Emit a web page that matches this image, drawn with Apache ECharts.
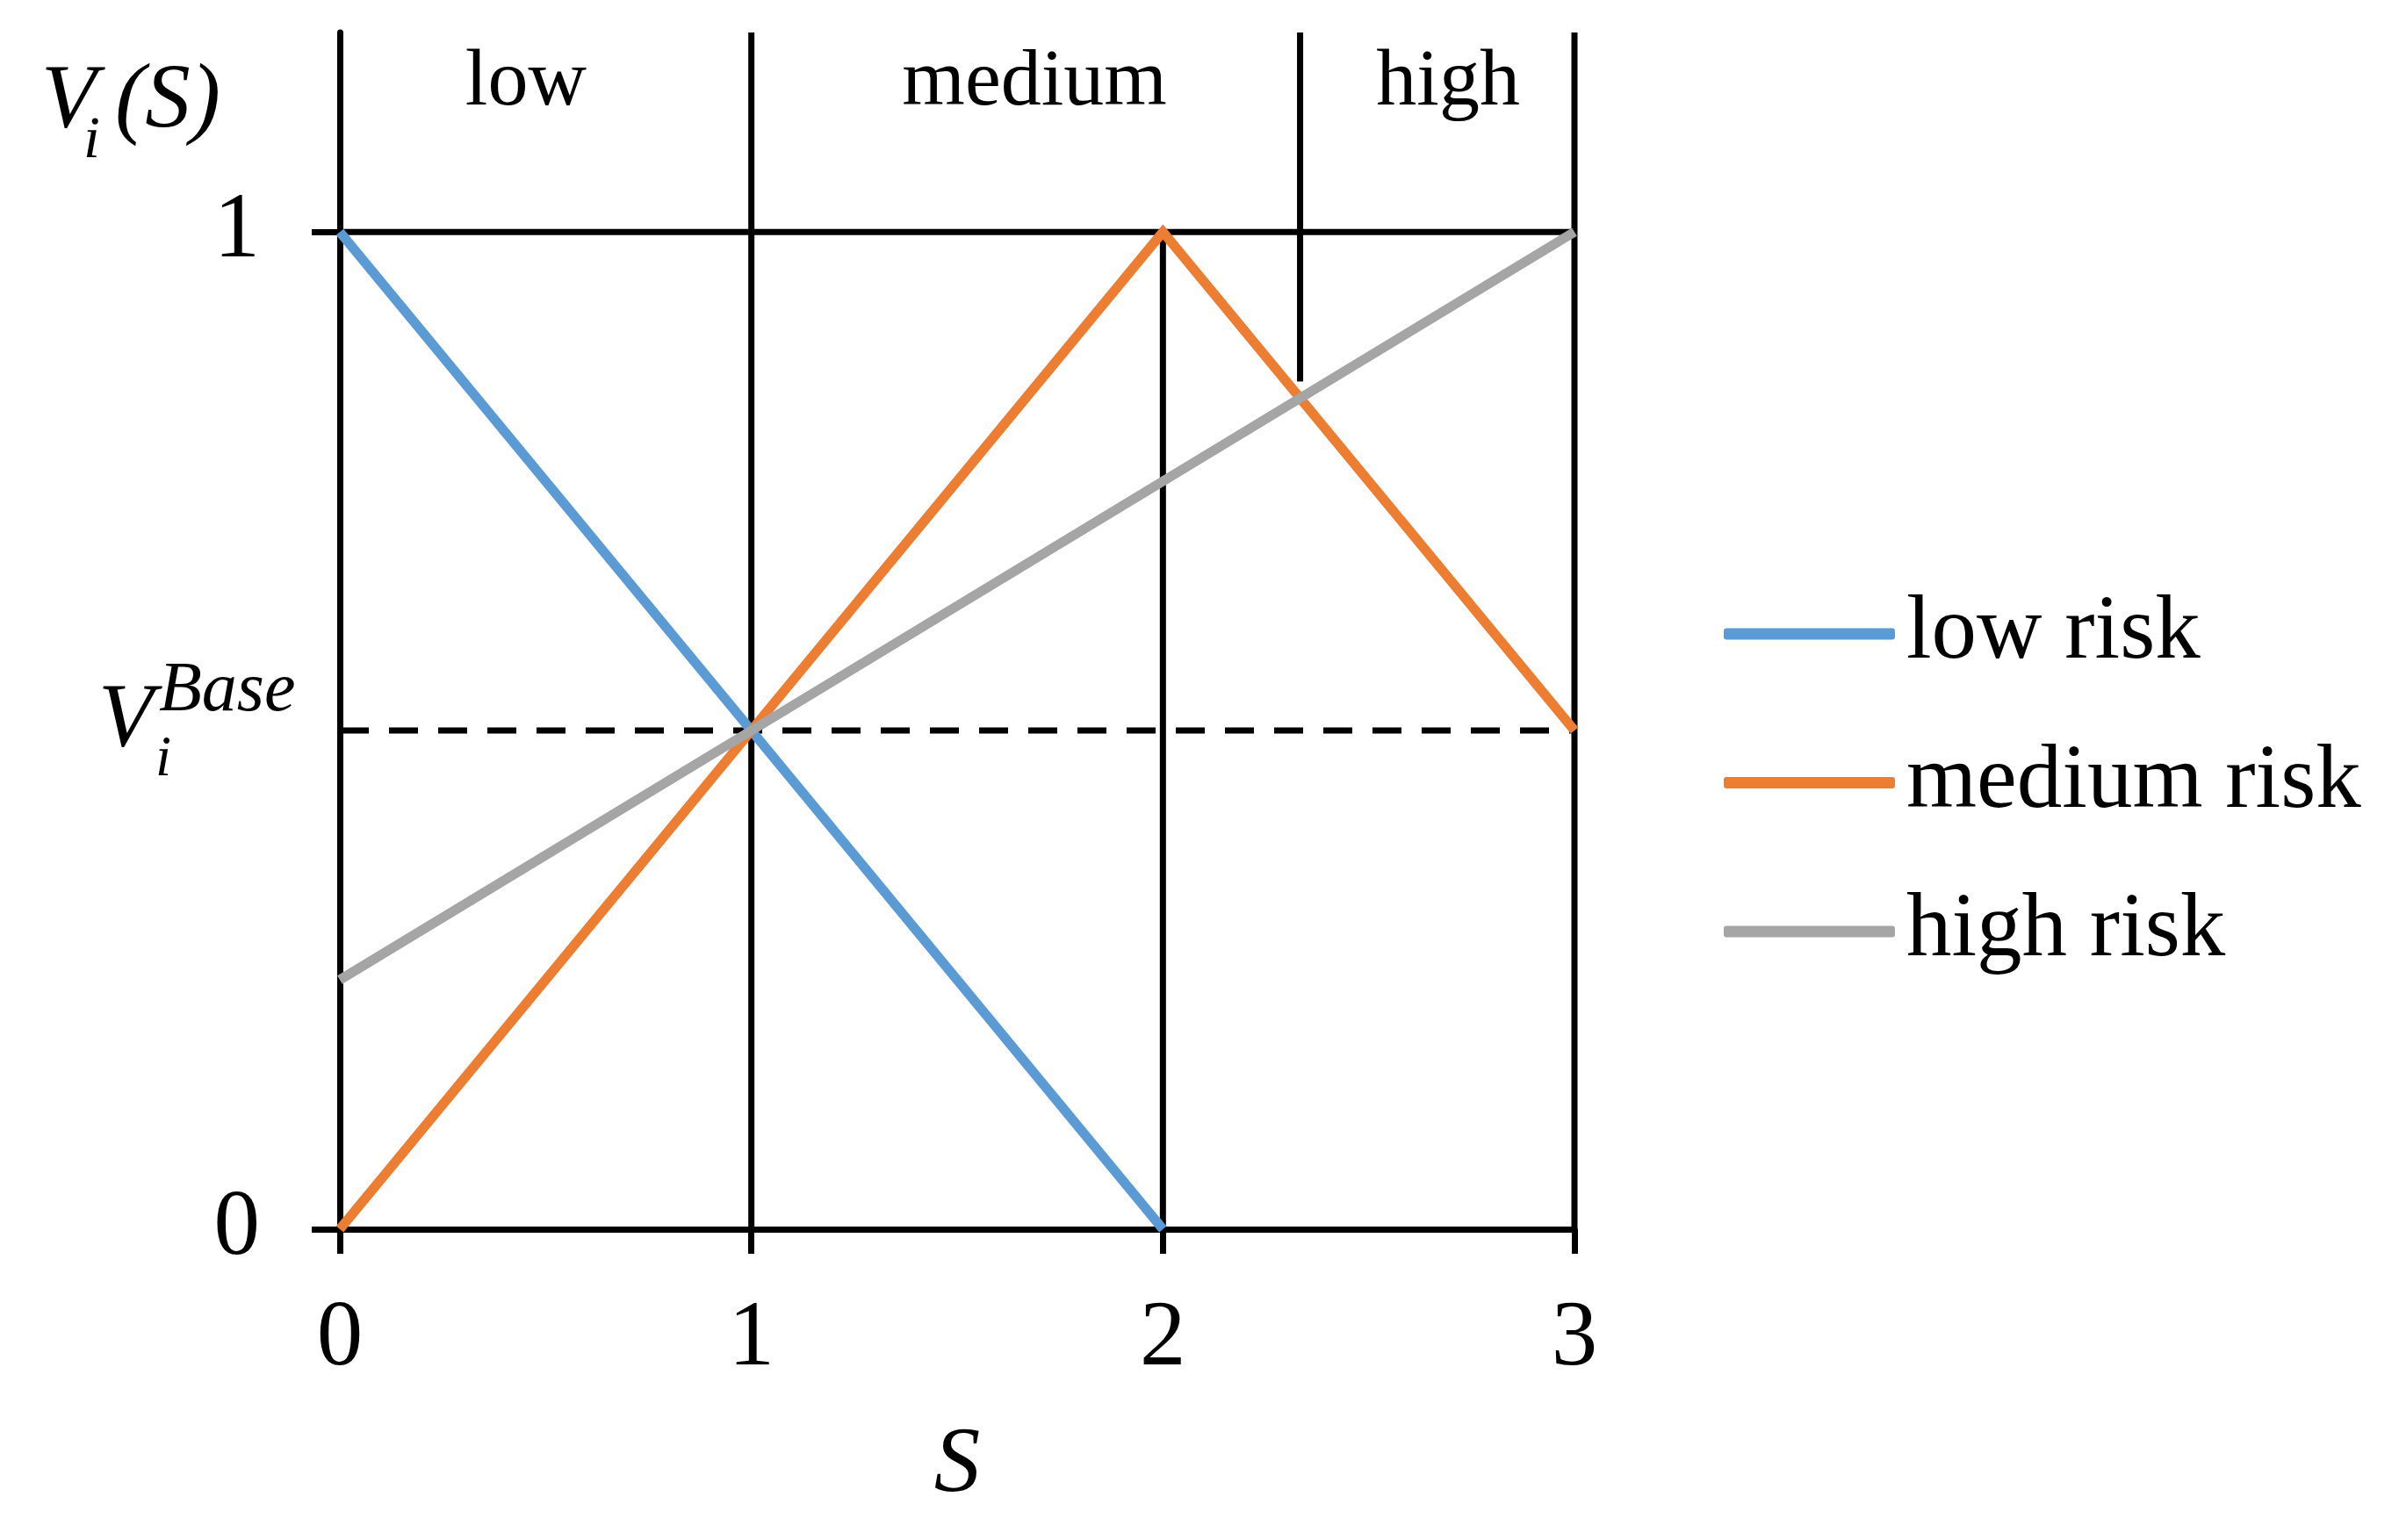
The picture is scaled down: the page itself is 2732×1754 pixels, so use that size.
<!DOCTYPE html>
<html>
<head>
<meta charset="utf-8">
<script src="https://cdn.jsdelivr.net/npm/echarts@6/dist/echarts.min.js"></script>
<style>
html,body{margin:0;padding:0;background:#fff;}
#c{width:2732px;height:1754px;}
</style>
</head>
<body>
<div id="c"></div>
<script>
// ---------------- data ----------------
const S_VALUES = [0, 1, 2, 3];
const LOW_RISK = [1, 0.5, 0, null];
const MEDIUM_RISK = [0, 0.5, 1, 0.5];
const HIGH_RISK = [0.25, 0.5, 0.75, 1];
const SERIES_NAMES = ['low risk', 'medium risk', 'high risk'];
const Y_TICK_VALUES = [0, 1];
const V_BASE = 0.5;
const Y_MAX = 1.2;
const REGION_NAMES = ['low', 'medium', 'high'];
const REGION_LABEL_S = [0.452, 1.688, 2.693];
// black frame segments in data space [[S,V],[S,V]]
const FRAME_SEGMENTS = [
  [[1, 0], [1, 1.2]],
  [[2, 0], [2, 1]],
  [[3, 0], [3, 1.2]],
  [[7 / 3, 0.85], [7 / 3, 1.2]],
  [[0, 1], [3, 1]]
];
const BASE_SEGMENT = [[0, V_BASE], [3, V_BASE]];

// ---------------- styles ----------------
const FONT = 'Liberation Serif';
const COLORS = ['#5B9BD5', '#ED7D31', '#A5A5A5'];
const BLACK = '#000';

function pairs(vals) {
  const out = [];
  for (let i = 0; i < S_VALUES.length; i++) {
    if (vals[i] !== null) out.push([S_VALUES[i], vals[i]]);
  }
  return out;
}

const chart = echarts.init(document.getElementById('c'), null, {renderer: 'canvas'});

const series = [];
FRAME_SEGMENTS.forEach(function (seg) {
  series.push({
    type: 'line', data: seg, symbol: 'none', silent: true, z: 2,
    lineStyle: {color: BLACK, width: 7, cap: 'butt'}
  });
});
series.push({
  type: 'line', data: BASE_SEGMENT, symbol: 'none', silent: true, z: 2,
  lineStyle: {color: BLACK, width: 7, type: [33, 23]}
});
[LOW_RISK, MEDIUM_RISK, HIGH_RISK].forEach(function (vals, i) {
  series.push({
    name: SERIES_NAMES[i], type: 'line', data: pairs(vals), symbol: 'none', z: 5,
    color: COLORS[i],
    lineStyle: {color: COLORS[i], width: 11, join: 'miter', cap: 'butt'}
  });
});

chart.setOption({
  backgroundColor: '#fff',
  animation: false,
  grid: {left: 387, right: 939, top: 37, bottom: 354},
  xAxis: {
    type: 'value', min: 0, max: 3, interval: 1,
    name: 'S', nameLocation: 'middle', nameGap: 218,
    nameTextStyle: {fontFamily: FONT, fontStyle: 'italic', fontSize: 105, color: BLACK, lineHeight: 105},
    axisLine: {lineStyle: {color: BLACK, width: 7}},
    axisTick: {show: true, length: 28, lineStyle: {color: BLACK, width: 7}},
    axisLabel: {margin: 74, fontFamily: FONT, fontSize: 105, color: BLACK, lineHeight: 105},
    splitLine: {show: false}
  },
  yAxis: {
    type: 'value', min: 0, max: Y_MAX,
    axisLine: {show: true, lineStyle: {color: BLACK, width: 7}},
    axisTick: {show: true, length: 32, customValues: Y_TICK_VALUES, lineStyle: {color: BLACK, width: 7}},
    axisLabel: {margin: 91, customValues: Y_TICK_VALUES, fontFamily: FONT, fontSize: 105, color: BLACK},
    splitLine: {show: false}
  },
  legend: {
    data: SERIES_NAMES, orient: 'vertical', left: 1958, top: 662,
    itemWidth: 195, itemHeight: 13, itemGap: 59.5, icon: 'roundRect',
    textStyle: {fontFamily: FONT, fontSize: 103, color: BLACK, lineHeight: 110, padding: [0, 0, 0, 8]}
  },
  series: series
});

// ---------------- text annotations ----------------
const pTop = chart.convertToPixel({gridIndex: 0}, [0, Y_MAX]);
const pBase = chart.convertToPixel({gridIndex: 0}, [0, V_BASE]);
function txt(text, x, y, size, italic, align) {
  return {
    type: 'text', x: x, y: y, silent: true, z: 10,
    style: {
      text: text, fontFamily: FONT, fontSize: size, fontStyle: italic ? 'italic' : 'normal',
      fill: BLACK, align: align || 'left', verticalAlign: 'middle'
    }
  };
}
const g = [];
REGION_NAMES.forEach(function (name, i) {
  const p = chart.convertToPixel({gridIndex: 0}, [REGION_LABEL_S[i], Y_MAX]);
  g.push(txt(name, p[0], p[1] + 58, 92, false, 'center'));
});
// V_i(S)
g.push(txt('V', pTop[0] - 340, pTop[1] + 80, 103, true));
g.push(txt('i', pTop[0] - 292, pTop[1] + 124, 68, true));
g.push(txt('(S)', pTop[0] - 256, pTop[1] + 80, 103, true));
// V_i^Base
g.push(txt('V', pBase[0] - 275, pBase[1] - 10, 103, true));
g.push(txt('Base', pBase[0] - 206, pBase[1] - 44, 80, true));
g.push(txt('i', pBase[0] - 210, pBase[1] + 34, 65, true));
chart.setOption({graphic: g});
</script>
</body>
</html>
